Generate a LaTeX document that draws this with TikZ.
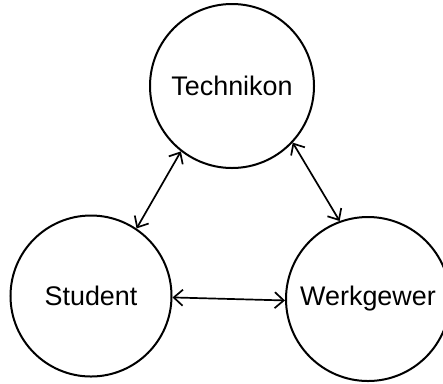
\documentclass[tikz,border=0pt]{standalone}
\usepackage{fontspec}
\setmainfont{Liberation Sans}
\usetikzlibrary{arrows.meta}
\begin{document}
\begin{tikzpicture}[x=1bp,y=-1bp,
  circ/.style={draw, circle, line width=2bp, inner sep=0pt, font=\fontsize{27}{30}\selectfont},
  link/.style={line width=1.7bp, {Straight Barb[length=9bp,width=16bp,line width=1.7bp]}-{Straight Barb[length=9bp,width=16bp,line width=1.7bp]}}]
\useasboundingbox (0,0) rectangle (443,383);
\node[circ, minimum size=164bp] (T) at (232,86) {Technikon};
\node[circ, minimum size=161bp] (S) at (91,296) {Student};
\node[circ, minimum size=164bp] (W) at (368,299) {Werkgewer};
\draw[link] (S.56) -- (T.-128);
\draw[link] (T.-43) -- (W.110);
\draw[link] (S.-1) -- (W.181);
\end{tikzpicture}
\end{document}
